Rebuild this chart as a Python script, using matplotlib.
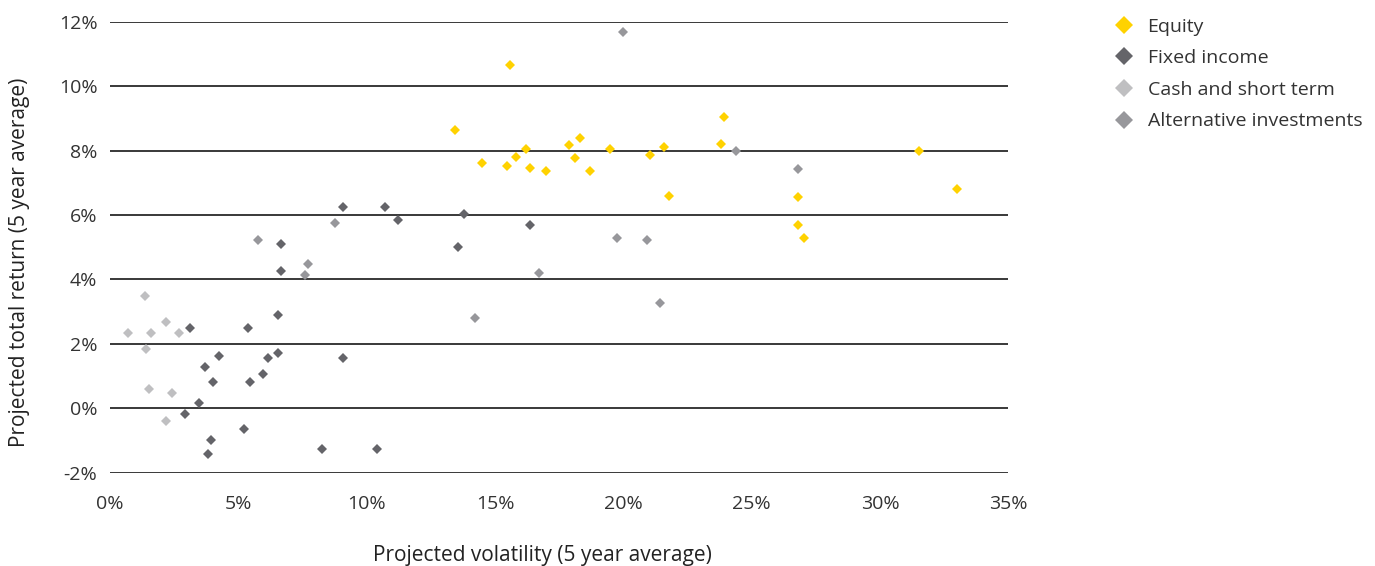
import numpy as np
import matplotlib.pyplot as plt

plt.rcParams['font.family'] = ['Open Sans', 'DejaVu Sans']

# values (percent)
equity_vol = [13.44, 14.48, 15.47, 15.59, 15.80, 16.21, 16.37, 16.98, 17.88, 18.10, 18.32, 18.70,
              19.48, 21.05, 21.57, 21.76, 23.80, 23.92, 26.81, 26.81, 27.02, 31.52, 33.00]
equity_ret = [8.63, 7.62, 7.52, 10.66, 7.81, 8.06, 7.46, 7.35, 8.18, 7.78, 8.39, 7.35,
              8.06, 7.87, 8.12, 6.58, 8.20, 9.03, 6.57, 5.68, 5.29, 8.00, 6.82]

fixed_vol = [3.13, 5.36, 6.53, 4.25, 3.70, 6.17, 6.53, 4.01, 5.47, 5.97, 9.08, 3.48, 2.92,
             3.93, 3.83, 5.23, 8.26, 10.39, 9.07, 10.71, 11.22, 13.80, 13.57, 6.65, 6.65, 16.37]
fixed_ret = [2.48, 2.48, 2.90, 1.61, 1.27, 1.56, 1.73, 0.83, 0.81, 1.07, 1.56, 0.17, -0.18,
             -0.97, -1.43, -0.65, -1.25, -1.25, 6.26, 6.26, 5.84, 6.03, 5.02, 5.09, 4.26, 5.68]

cash_vol = [1.38, 0.69, 1.59, 2.17, 2.69, 1.41, 1.52, 2.42, 2.18]
cash_ret = [3.49, 2.34, 2.34, 2.69, 2.34, 1.83, 0.60, 0.48, -0.41]

alt_vol = [19.98, 5.75, 7.73, 7.61, 8.77, 14.22, 16.70, 19.76, 20.92, 21.43, 24.39, 26.81]
alt_ret = [11.69, 5.21, 4.49, 4.15, 5.74, 2.79, 4.21, 5.29, 5.21, 3.28, 8.00, 7.43]

series = [
    ('Equity', equity_vol, equity_ret, '#FFD200'),
    ('Fixed income', fixed_vol, fixed_ret, '#646469'),
    ('Cash and short term', cash_vol, cash_ret, '#BFBFC1'),
    ('Alternative investments', alt_vol, alt_ret, '#97979B'),
]

x_ticks = [0, 5, 10, 15, 20, 25, 30, 35]
y_ticks = [-2, 0, 2, 4, 6, 8, 10, 12]

fig = plt.figure(figsize=(13.75, 5.66), dpi=100)
ax = fig.add_axes([110 / 1375, 1 - 472.7 / 566, 898.5 / 1375, 451 / 566])

for name, xs, ys, col in series:
    ax.plot(xs, ys, linestyle='none', marker='D', markersize=5.4, color=col,
            markeredgewidth=0, label=name, zorder=3)

ax.set_xlim(0, 35)
ax.set_ylim(-2, 12)
ax.set_xticks(x_ticks)
ax.set_xticklabels([f'{t}%' for t in x_ticks])
ax.set_yticks(y_ticks)
ax.set_yticklabels([f'{t}%' for t in y_ticks])
ax.tick_params(length=0, labelsize=14, colors='#333333')
ax.tick_params(axis='y', pad=9)
ax.tick_params(axis='x', pad=16)
for s in ax.spines.values():
    s.set_visible(False)
ax.yaxis.grid(True, color='#2a2a2a', linewidth=1.3)
ax.set_axisbelow(True)

fig.text(542 / 1375, 1 - 555 / 566, 'Projected volatility (5 year average)', ha='center',
         va='center', fontsize=15, color='#222222')
fig.text(20 / 1375, 1 - 262 / 566, 'Projected total return (5 year average)', ha='center',
         va='center', rotation=90, fontsize=15, color='#222222')

fig.legend(loc='upper left', bbox_to_anchor=(1097 / 1375, 1 - 0 / 566), frameon=False,
           fontsize=14, markerscale=1.65, handlelength=1.0, handletextpad=0.7,
           labelspacing=0.7, labelcolor='#333333')

fig.savefig('out.png', dpi=100)
